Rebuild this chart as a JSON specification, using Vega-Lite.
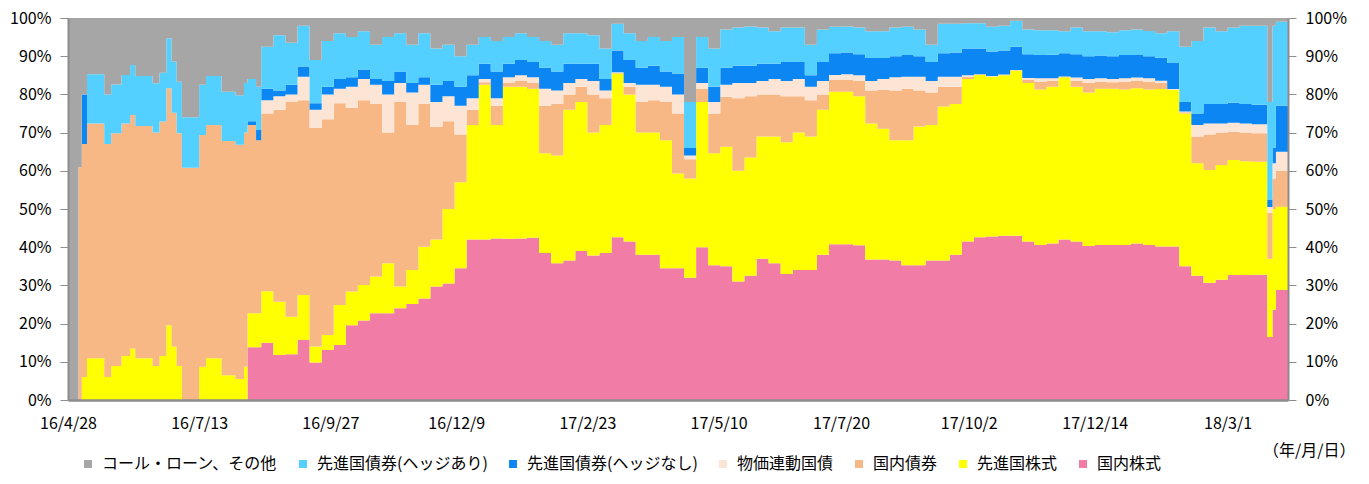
{
  "$schema": "https://vega.github.io/schema/vega-lite/v6.json",
  "width": 1220,
  "height": 382,
  "autosize": "none",
  "padding": {"left": 68, "top": 18, "right": 81, "bottom": 84},
  "background": "white",
  "config": {
    "view": {"stroke": null},
    "font": "Noto Sans CJK JP",
    "legend": {
      "orient": "none",
      "legendX": 12,
      "legendY": 438,
      "direction": "horizontal",
      "symbolType": "square",
      "symbolSize": 64,
      "symbolStrokeWidth": 0,
      "labelFontSize": 16,
      "labelColor": "#000000",
      "labelOffset": 6,
      "columnPadding": 17,
      "labelLimit": 400
    }
  },
  "data": {
    "values": [
      {"d": "2016-04-28", "t1": 0, "t2": 0, "t3": 0, "t4": 0, "t5": 0, "t6": 0, "t7": 100},
      {"d": "2016-05-04", "t1": 0, "t2": 0, "t3": 61, "t4": 61, "t5": 61, "t6": 61, "t7": 100},
      {"d": "2016-05-06", "t1": 0, "t2": 6, "t3": 67, "t4": 67, "t5": 80, "t6": 80, "t7": 100},
      {"d": "2016-05-09", "t1": 0, "t2": 10.9, "t3": 72.4, "t4": 72.4, "t5": 72.4, "t6": 85.3, "t7": 100},
      {"d": "2016-05-19", "t1": 0, "t2": 6, "t3": 67, "t4": 67, "t5": 67, "t6": 80, "t7": 100},
      {"d": "2016-05-23", "t1": 0, "t2": 8.9, "t3": 69.8, "t4": 69.8, "t5": 69.8, "t6": 82.6, "t7": 100},
      {"d": "2016-05-29", "t1": 0, "t2": 11.5, "t3": 72.4, "t4": 72.4, "t5": 72.4, "t6": 85.1, "t7": 100},
      {"d": "2016-06-03", "t1": 0, "t2": 13.5, "t3": 74.6, "t4": 74.6, "t5": 74.6, "t6": 87.7, "t7": 100},
      {"d": "2016-06-06", "t1": 0, "t2": 10.9, "t3": 71.7, "t4": 71.7, "t5": 71.7, "t6": 84.8, "t7": 100},
      {"d": "2016-06-16", "t1": 0, "t2": 8.9, "t3": 70, "t4": 70, "t5": 70, "t6": 82.9, "t7": 100},
      {"d": "2016-06-20", "t1": 0, "t2": 11.5, "t3": 72.9, "t4": 72.9, "t5": 72.9, "t6": 85.7, "t7": 100},
      {"d": "2016-06-24", "t1": 0, "t2": 19.6, "t3": 81.6, "t4": 81.6, "t5": 81.6, "t6": 94.7, "t7": 100},
      {"d": "2016-06-27", "t1": 0, "t2": 14, "t3": 75.2, "t4": 75.2, "t5": 75.2, "t6": 88.6, "t7": 100},
      {"d": "2016-06-30", "t1": 0, "t2": 8.9, "t3": 69.8, "t4": 69.8, "t5": 69.8, "t6": 83.3, "t7": 100},
      {"d": "2016-07-03", "t1": 0, "t2": 0, "t3": 60.8, "t4": 60.8, "t5": 60.8, "t6": 74, "t7": 100},
      {"d": "2016-07-13", "t1": 0, "t2": 8.7, "t3": 69.4, "t4": 69.4, "t5": 69.4, "t6": 82.5, "t7": 100},
      {"d": "2016-07-17", "t1": 0, "t2": 10.9, "t3": 72, "t4": 72, "t5": 72, "t6": 84.8, "t7": 100},
      {"d": "2016-07-26", "t1": 0, "t2": 6.5, "t3": 67.8, "t4": 67.8, "t5": 67.8, "t6": 80.7, "t7": 100},
      {"d": "2016-08-03", "t1": 0, "t2": 5.5, "t3": 66.8, "t4": 66.8, "t5": 66.8, "t6": 79.8, "t7": 100},
      {"d": "2016-08-08", "t1": 0, "t2": 8.7, "t3": 70, "t4": 70, "t5": 70, "t6": 83, "t7": 100},
      {"d": "2016-08-10", "t1": 13.8, "t2": 22.7, "t3": 72, "t4": 72, "t5": 73, "t6": 84, "t7": 100},
      {"d": "2016-08-15", "t1": 13.8, "t2": 22.7, "t3": 68, "t4": 68, "t5": 70.7, "t6": 82, "t7": 100},
      {"d": "2016-08-18", "t1": 15, "t2": 28.5, "t3": 75, "t4": 78.5, "t5": 81.5, "t6": 92.5, "t7": 100},
      {"d": "2016-08-25", "t1": 11.8, "t2": 25.7, "t3": 76, "t4": 79.5, "t5": 81, "t6": 95.5, "t7": 100},
      {"d": "2016-09-01", "t1": 12, "t2": 21.8, "t3": 78, "t4": 80, "t5": 82.5, "t6": 93.5, "t7": 100},
      {"d": "2016-09-08", "t1": 15.7, "t2": 27.5, "t3": 78.5, "t4": 84.6, "t5": 87.3, "t6": 98, "t7": 100},
      {"d": "2016-09-15", "t1": 9.8, "t2": 14, "t3": 71.2, "t4": 76, "t5": 77.7, "t6": 89, "t7": 100},
      {"d": "2016-09-22", "t1": 13.1, "t2": 17, "t3": 73.5, "t4": 80, "t5": 82, "t6": 94, "t7": 100},
      {"d": "2016-09-29", "t1": 14.4, "t2": 24.9, "t3": 77.7, "t4": 81.5, "t5": 84, "t6": 96, "t7": 100},
      {"d": "2016-10-06", "t1": 19.6, "t2": 28.4, "t3": 76.5, "t4": 82, "t5": 84.5, "t6": 95, "t7": 100},
      {"d": "2016-10-13", "t1": 20.8, "t2": 30.1, "t3": 78.5, "t4": 84, "t5": 86.5, "t6": 96.5, "t7": 100},
      {"d": "2016-10-20", "t1": 22.7, "t2": 32.3, "t3": 77.5, "t4": 82.5, "t5": 84, "t6": 93, "t7": 100},
      {"d": "2016-10-27", "t1": 22.7, "t2": 35.8, "t3": 70, "t4": 80, "t5": 83.5, "t6": 95, "t7": 100},
      {"d": "2016-11-03", "t1": 24, "t2": 29.7, "t3": 78, "t4": 83, "t5": 86, "t6": 96, "t7": 100},
      {"d": "2016-11-10", "t1": 25.1, "t2": 34, "t3": 72, "t4": 80.5, "t5": 83, "t6": 93, "t7": 100},
      {"d": "2016-11-17", "t1": 26.6, "t2": 40.1, "t3": 77.5, "t4": 82.5, "t5": 84.5, "t6": 96, "t7": 100},
      {"d": "2016-11-24", "t1": 29.7, "t2": 42, "t3": 71.5, "t4": 78, "t5": 82.5, "t6": 92, "t7": 100},
      {"d": "2016-12-01", "t1": 30.5, "t2": 50, "t3": 73, "t4": 79.5, "t5": 83.5, "t6": 93, "t7": 100},
      {"d": "2016-12-08", "t1": 34.5, "t2": 57, "t3": 69.5, "t4": 77, "t5": 82, "t6": 90, "t7": 100},
      {"d": "2016-12-15", "t1": 42, "t2": 72, "t3": 76, "t4": 79, "t5": 85, "t6": 93, "t7": 100},
      {"d": "2016-12-22", "t1": 42, "t2": 82.5, "t3": 83.2, "t4": 84, "t5": 88, "t6": 95, "t7": 100},
      {"d": "2016-12-29", "t1": 42.3, "t2": 72, "t3": 77, "t4": 79, "t5": 86, "t6": 94, "t7": 100},
      {"d": "2017-01-05", "t1": 42.2, "t2": 82, "t3": 83, "t4": 84.5, "t5": 88, "t6": 95, "t7": 100},
      {"d": "2017-01-12", "t1": 42.3, "t2": 82, "t3": 83.5, "t4": 85, "t5": 89, "t6": 96, "t7": 100},
      {"d": "2017-01-19", "t1": 42.5, "t2": 81.5, "t3": 83, "t4": 84.5, "t5": 88.5, "t6": 95, "t7": 100},
      {"d": "2017-01-26", "t1": 38.5, "t2": 64.6, "t3": 77, "t4": 81.5, "t5": 87, "t6": 94, "t7": 100},
      {"d": "2017-02-02", "t1": 35.8, "t2": 64, "t3": 77.5, "t4": 81, "t5": 86, "t6": 93, "t7": 100},
      {"d": "2017-02-09", "t1": 36.5, "t2": 76, "t3": 80, "t4": 83, "t5": 88, "t6": 96, "t7": 100},
      {"d": "2017-02-16", "t1": 39, "t2": 78, "t3": 82, "t4": 84, "t5": 88, "t6": 96, "t7": 100},
      {"d": "2017-02-23", "t1": 37.8, "t2": 70, "t3": 80, "t4": 83.5, "t5": 88, "t6": 95.5, "t7": 100},
      {"d": "2017-03-02", "t1": 38.5, "t2": 72, "t3": 79, "t4": 81, "t5": 84, "t6": 92, "t7": 100},
      {"d": "2017-03-09", "t1": 42.6, "t2": 85.5, "t3": 85.6, "t4": 85.8, "t5": 91.5, "t6": 98.5, "t7": 100},
      {"d": "2017-03-16", "t1": 41.5, "t2": 80, "t3": 82, "t4": 83, "t5": 89, "t6": 96, "t7": 100},
      {"d": "2017-03-23", "t1": 38, "t2": 70, "t3": 78, "t4": 82.5, "t5": 87, "t6": 94, "t7": 100},
      {"d": "2017-03-30", "t1": 38, "t2": 70, "t3": 78.5, "t4": 82.5, "t5": 87.5, "t6": 95, "t7": 100},
      {"d": "2017-04-06", "t1": 34.5, "t2": 68, "t3": 78, "t4": 82, "t5": 86, "t6": 94, "t7": 100},
      {"d": "2017-04-13", "t1": 34.5, "t2": 59.3, "t3": 75, "t4": 80, "t5": 85.5, "t6": 95, "t7": 100},
      {"d": "2017-04-20", "t1": 32, "t2": 58, "t3": 63, "t4": 64, "t5": 66, "t6": 78, "t7": 100},
      {"d": "2017-04-27", "t1": 40, "t2": 78, "t3": 81.5, "t4": 83, "t5": 87, "t6": 95, "t7": 100},
      {"d": "2017-05-04", "t1": 35.3, "t2": 64.6, "t3": 75, "t4": 78, "t5": 82, "t6": 92, "t7": 100},
      {"d": "2017-05-11", "t1": 35, "t2": 66.3, "t3": 79.4, "t4": 82.5, "t5": 87, "t6": 97, "t7": 100},
      {"d": "2017-05-18", "t1": 31, "t2": 60, "t3": 79, "t4": 83, "t5": 87.5, "t6": 97.5, "t7": 100},
      {"d": "2017-05-25", "t1": 32.5, "t2": 63.5, "t3": 79.5, "t4": 83, "t5": 87.5, "t6": 97.8, "t7": 100},
      {"d": "2017-06-01", "t1": 37, "t2": 69, "t3": 80, "t4": 83.5, "t5": 88, "t6": 97.5, "t7": 100},
      {"d": "2017-06-08", "t1": 35.8, "t2": 69, "t3": 80, "t4": 84, "t5": 88, "t6": 96.5, "t7": 100},
      {"d": "2017-06-15", "t1": 33, "t2": 67.5, "t3": 79.5, "t4": 83.5, "t5": 88.5, "t6": 97.5, "t7": 100},
      {"d": "2017-06-22", "t1": 34, "t2": 70, "t3": 79.5, "t4": 84, "t5": 88.5, "t6": 97.5, "t7": 100},
      {"d": "2017-06-29", "t1": 34, "t2": 69, "t3": 78.5, "t4": 82, "t5": 85, "t6": 93, "t7": 100},
      {"d": "2017-07-06", "t1": 38, "t2": 76, "t3": 80, "t4": 83.5, "t5": 88.5, "t6": 97, "t7": 100},
      {"d": "2017-07-13", "t1": 40.8, "t2": 80.7, "t3": 83.8, "t4": 85.1, "t5": 90.8, "t6": 97.7, "t7": 100},
      {"d": "2017-07-20", "t1": 40.8, "t2": 80.7, "t3": 83.8, "t4": 85.3, "t5": 91, "t6": 97.8, "t7": 100},
      {"d": "2017-07-27", "t1": 40.5, "t2": 79.5, "t3": 83.5, "t4": 85, "t5": 90.5, "t6": 97.5, "t7": 100},
      {"d": "2017-08-03", "t1": 36.8, "t2": 72.4, "t3": 81, "t4": 83.5, "t5": 89.5, "t6": 96.5, "t7": 100},
      {"d": "2017-08-10", "t1": 36.8, "t2": 71, "t3": 81.2, "t4": 84, "t5": 89.5, "t6": 96.5, "t7": 100},
      {"d": "2017-08-17", "t1": 36.5, "t2": 68, "t3": 81, "t4": 84.5, "t5": 90, "t6": 97.5, "t7": 100},
      {"d": "2017-08-24", "t1": 35.3, "t2": 68, "t3": 81.5, "t4": 84.6, "t5": 90.3, "t6": 97.7, "t7": 100},
      {"d": "2017-08-31", "t1": 35.3, "t2": 71.6, "t3": 81, "t4": 84.6, "t5": 90, "t6": 97, "t7": 100},
      {"d": "2017-09-07", "t1": 36.5, "t2": 72, "t3": 80.5, "t4": 83.5, "t5": 88.5, "t6": 93, "t7": 100},
      {"d": "2017-09-14", "t1": 36.5, "t2": 76.8, "t3": 82, "t4": 84.6, "t5": 90.8, "t6": 98.5, "t7": 100},
      {"d": "2017-09-21", "t1": 38, "t2": 77.5, "t3": 82, "t4": 84.6, "t5": 91, "t6": 98.5, "t7": 100},
      {"d": "2017-09-28", "t1": 41.5, "t2": 84, "t3": 84.6, "t4": 85, "t5": 92, "t6": 98.6, "t7": 100},
      {"d": "2017-10-05", "t1": 42.6, "t2": 85.1, "t3": 85.2, "t4": 85.3, "t5": 92, "t6": 98.6, "t7": 100},
      {"d": "2017-10-12", "t1": 42.8, "t2": 84.6, "t3": 84.7, "t4": 84.8, "t5": 91.2, "t6": 97.7, "t7": 100},
      {"d": "2017-10-19", "t1": 43, "t2": 85, "t3": 85.1, "t4": 85.2, "t5": 91.5, "t6": 98, "t7": 100},
      {"d": "2017-10-26", "t1": 43, "t2": 86.2, "t3": 86.3, "t4": 86.4, "t5": 92.5, "t6": 99.3, "t7": 100},
      {"d": "2017-11-02", "t1": 41.5, "t2": 83, "t3": 83.8, "t4": 84.3, "t5": 90.5, "t6": 97, "t7": 100},
      {"d": "2017-11-09", "t1": 40.6, "t2": 81.3, "t3": 83.3, "t4": 84.2, "t5": 90.3, "t6": 96.8, "t7": 100},
      {"d": "2017-11-16", "t1": 41, "t2": 82, "t3": 83.5, "t4": 84.2, "t5": 90.4, "t6": 96.8, "t7": 100},
      {"d": "2017-11-23", "t1": 42, "t2": 84.5, "t3": 84.6, "t4": 84.7, "t5": 90.8, "t6": 96.5, "t7": 100},
      {"d": "2017-11-30", "t1": 41.5, "t2": 82, "t3": 83.5, "t4": 84.4, "t5": 90.5, "t6": 97.5, "t7": 100},
      {"d": "2017-12-07", "t1": 40.3, "t2": 80.5, "t3": 83, "t4": 84, "t5": 90, "t6": 96.5, "t7": 100},
      {"d": "2017-12-14", "t1": 40.6, "t2": 81.5, "t3": 83.3, "t4": 84.2, "t5": 90.2, "t6": 96.5, "t7": 100},
      {"d": "2017-12-21", "t1": 40.6, "t2": 81.5, "t3": 83.2, "t4": 84, "t5": 90, "t6": 96.3, "t7": 100},
      {"d": "2017-12-28", "t1": 40.6, "t2": 81.3, "t3": 83.3, "t4": 84.2, "t5": 90.3, "t6": 96.8, "t7": 100},
      {"d": "2018-01-04", "t1": 41, "t2": 81.6, "t3": 83.5, "t4": 84.4, "t5": 90.3, "t6": 97, "t7": 100},
      {"d": "2018-01-11", "t1": 40.6, "t2": 81.3, "t3": 83.3, "t4": 84.2, "t5": 90, "t6": 96.6, "t7": 100},
      {"d": "2018-01-18", "t1": 40.2, "t2": 81.4, "t3": 83, "t4": 83.6, "t5": 89.6, "t6": 96, "t7": 100},
      {"d": "2018-01-25", "t1": 40.2, "t2": 81.2, "t3": 81.3, "t4": 81.4, "t5": 88.2, "t6": 96.5, "t7": 100},
      {"d": "2018-02-01", "t1": 35, "t2": 75, "t3": 75.3, "t4": 75.5, "t5": 78, "t6": 92.5, "t7": 100},
      {"d": "2018-02-08", "t1": 32.5, "t2": 62, "t3": 69, "t4": 72, "t5": 75, "t6": 94, "t7": 100},
      {"d": "2018-02-15", "t1": 30.7, "t2": 60.2, "t3": 69.5, "t4": 72.4, "t5": 77.5, "t6": 97.5, "t7": 100},
      {"d": "2018-02-22", "t1": 31.5, "t2": 61.5, "t3": 70, "t4": 72.4, "t5": 77.5, "t6": 96.5, "t7": 100},
      {"d": "2018-03-01", "t1": 32.7, "t2": 62.8, "t3": 70.2, "t4": 72.6, "t5": 77.8, "t6": 97.5, "t7": 100},
      {"d": "2018-03-08", "t1": 32.7, "t2": 62.5, "t3": 70, "t4": 72.4, "t5": 77.5, "t6": 98, "t7": 100},
      {"d": "2018-03-15", "t1": 32.8, "t2": 62.4, "t3": 69.8, "t4": 72.2, "t5": 77.3, "t6": 98, "t7": 100},
      {"d": "2018-03-22", "t1": 32.8, "t2": 62.4, "t3": 69.8, "t4": 72.2, "t5": 77.3, "t6": 98, "t7": 100},
      {"d": "2018-03-24", "t1": 16.5, "t2": 37, "t3": 49, "t4": 50.5, "t5": 52.5, "t6": 78, "t7": 100},
      {"d": "2018-03-27", "t1": 23.6, "t2": 50, "t3": 58, "t4": 62, "t5": 66, "t6": 98, "t7": 100},
      {"d": "2018-03-29", "t1": 28.8, "t2": 50.6, "t3": 60, "t4": 65, "t5": 77, "t6": 99, "t7": 100},
      {"d": "2018-04-05", "t1": 28.8, "t2": 50.6, "t3": 60, "t4": 65, "t5": 77, "t6": 99.5, "t7": 100}
    ]
  },
  "encoding": {
    "x": {
      "field": "d",
      "type": "temporal",
      "scale": {
        "type": "utc",
        "domain": [
          {"year": 2016, "month": 4, "date": 28, "utc": true},
          {"year": 2018, "month": 4, "date": 5, "utc": true}
        ]
      },
      "axis": {
        "values": [
          {"year": 2016, "month": 4, "date": 28, "utc": true},
          {"year": 2016, "month": 7, "date": 13, "utc": true},
          {"year": 2016, "month": 9, "date": 27, "utc": true},
          {"year": 2016, "month": 12, "date": 9, "utc": true},
          {"year": 2017, "month": 2, "date": 23, "utc": true},
          {"year": 2017, "month": 5, "date": 10, "utc": true},
          {"year": 2017, "month": 7, "date": 20, "utc": true},
          {"year": 2017, "month": 10, "date": 2, "utc": true},
          {"year": 2017, "month": 12, "date": 14, "utc": true},
          {"year": 2018, "month": 3, "date": 1, "utc": true}
        ],
        "format": "%y/%-m/%-d",
        "labelAngle": 0,
        "labelFlush": false,
        "labelOverlap": false,
        "ticks": false,
        "grid": false,
        "domainColor": "#8c8c8c",
        "domainWidth": 2.5,
        "labelPadding": 15,
        "labelFontSize": 16,
        "labelColor": "#000000",
        "zindex": 1,
        "title": "（年/月/日）",
        "titleFontSize": 16,
        "titleFontWeight": "normal",
        "titleColor": "#000000",
        "titleAlign": "right",
        "titleBaseline": "middle",
        "titleX": 1287,
        "titleY": 50
      }
    }
  },
  "layer": [
    {
      "mark": {"type": "area", "interpolate": "step-after"},
      "encoding": {
        "y": {
          "field": "t1",
          "type": "quantitative",
          "scale": {"domain": [0, 100], "nice": false},
          "axis": {
            "orient": "left",
            "values": [0, 10, 20, 30, 40, 50, 60, 70, 80, 90, 100],
            "labelExpr": "datum.value + '%'",
            "grid": false,
            "title": null,
            "tickSize": 8,
            "tickColor": "#8c8c8c",
            "domainColor": "#8c8c8c",
            "domainWidth": 2,
            "labelPadding": 9,
            "labelFontSize": 16,
            "labelColor": "#000000",
            "zindex": 1
          }
        },
        "color": {
          "datum": "国内株式",
          "type": "nominal",
          "scale": {
            "domain": ["コール・ローン、その他", "先進国債券(ヘッジあり)", "先進国債券(ヘッジなし)", "物価連動国債", "国内債券", "先進国株式", "国内株式"],
            "range": ["#A6A6A6", "#53D0FF", "#0B86F2", "#FDE5D5", "#F8B886", "#FFFF00", "#F17CA6"]
          },
          "legend": {"title": null}
        }
      }
    },
    {
      "mark": {"type": "area", "interpolate": "step-after"},
      "encoding": {
        "y": {
          "field": "t2",
          "type": "quantitative",
          "axis": {
            "orient": "right",
            "values": [0, 10, 20, 30, 40, 50, 60, 70, 80, 90, 100],
            "labelExpr": "datum.value + '%'",
            "grid": false,
            "title": null,
            "tickSize": 8,
            "tickColor": "#8c8c8c",
            "domainColor": "#8c8c8c",
            "domainWidth": 2,
            "labelPadding": 9,
            "labelFontSize": 16,
            "labelColor": "#000000",
            "zindex": 1
          }
        },
        "y2": {"field": "t1"},
        "color": {"datum": "先進国株式", "type": "nominal"}
      }
    },
    {
      "mark": {"type": "area", "interpolate": "step-after"},
      "encoding": {
        "y": {"field": "t3", "type": "quantitative", "axis": null},
        "y2": {"field": "t2"},
        "color": {"datum": "国内債券", "type": "nominal"}
      }
    },
    {
      "mark": {"type": "area", "interpolate": "step-after"},
      "encoding": {
        "y": {"field": "t4", "type": "quantitative", "axis": null},
        "y2": {"field": "t3"},
        "color": {"datum": "物価連動国債", "type": "nominal"}
      }
    },
    {
      "mark": {"type": "area", "interpolate": "step-after"},
      "encoding": {
        "y": {"field": "t5", "type": "quantitative", "axis": null},
        "y2": {"field": "t4"},
        "color": {"datum": "先進国債券(ヘッジなし)", "type": "nominal"}
      }
    },
    {
      "mark": {"type": "area", "interpolate": "step-after"},
      "encoding": {
        "y": {"field": "t6", "type": "quantitative", "axis": null},
        "y2": {"field": "t5"},
        "color": {"datum": "先進国債券(ヘッジあり)", "type": "nominal"}
      }
    },
    {
      "mark": {"type": "area", "interpolate": "step-after"},
      "encoding": {
        "y": {"field": "t7", "type": "quantitative", "axis": null},
        "y2": {"field": "t6"},
        "color": {"datum": "コール・ローン、その他", "type": "nominal"}
      }
    }
  ]
}
